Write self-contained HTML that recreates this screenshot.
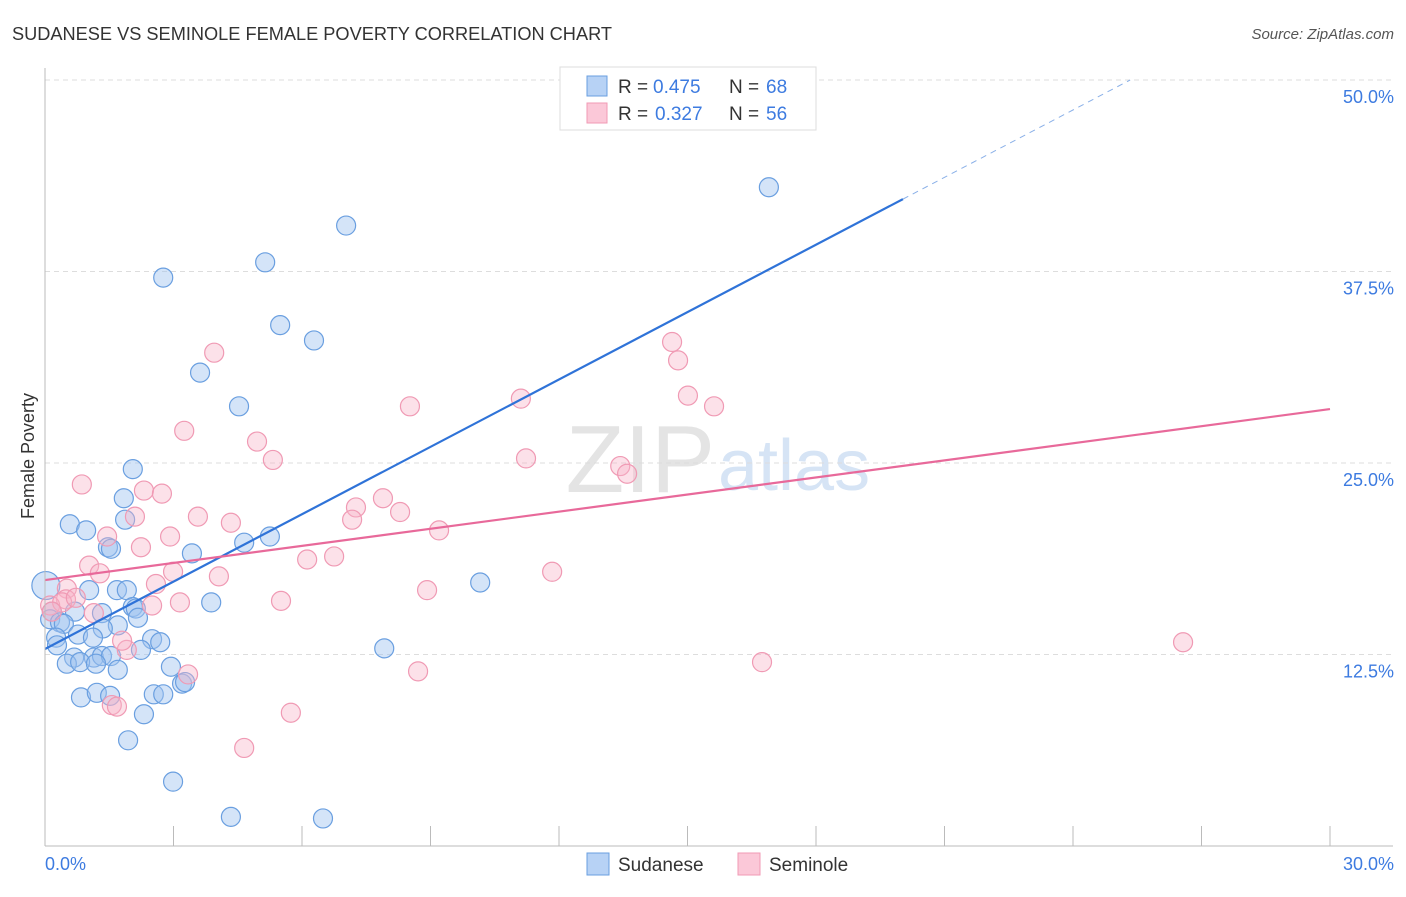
<!DOCTYPE html>
<html><head><meta charset="utf-8"><style>
body{margin:0;background:#fff;font-family:"Liberation Sans",sans-serif;}
svg text{font-family:"Liberation Sans",sans-serif;}
</style></head><body>
<svg id="chart" width="1406" height="892">
<text x="12" y="40" font-size="18.2" fill="#333">SUDANESE VS SEMINOLE FEMALE POVERTY CORRELATION CHART</text>
<text x="1394" y="39" font-size="15" fill="#555" font-style="italic" text-anchor="end">Source: ZipAtlas.com</text>
<text x="34" y="456" font-size="18" fill="#333" text-anchor="middle" transform="rotate(-90 34 456)">Female Poverty</text>
<text x="715" y="492" font-size="96" fill="#e4e4e4" text-anchor="end" font-family="Liberation Serif">ZIP</text>
<text x="718" y="490" font-size="72" fill="#d6e4f5">atlas</text>
<g id="grid"></g><g id="pts"></g><g id="lines"></g>
<line x1="45" y1="68" x2="45" y2="846" stroke="#bbb"/>
<line x1="45" y1="846" x2="1393" y2="846" stroke="#bbb"/>
<text x="45" y="870" font-size="18" fill="#3d7be0">0.0%</text>
<text x="1394" y="870" font-size="18" fill="#3d7be0" text-anchor="end">30.0%</text>
<g>
<rect x="560" y="67" width="256" height="63" fill="#fff" stroke="#ddd"/>
<rect x="587" y="76" width="20" height="20" fill="#b7d2f5" stroke="#6a9fe0"/>
<rect x="587" y="103" width="20" height="20" fill="#fbc8d8" stroke="#f09ab4"/>
<text x="618" y="93" font-size="19" fill="#333">R =</text>
<text x="653" y="93" font-size="19" fill="#3d7be0">0.475</text>
<text x="729" y="93" font-size="19" fill="#333">N =</text>
<text x="766" y="93" font-size="19" fill="#3d7be0">68</text>
<text x="618" y="120" font-size="19" fill="#333">R =</text>
<text x="655" y="120" font-size="19" fill="#3d7be0">0.327</text>
<text x="729" y="120" font-size="19" fill="#333">N =</text>
<text x="766" y="120" font-size="19" fill="#3d7be0">56</text>
</g>
<g>
<rect x="587" y="853" width="22" height="22" fill="#b7d2f5" stroke="#6a9fe0"/>
<text x="618" y="871" font-size="19" fill="#333">Sudanese</text>
<rect x="738" y="853" width="22" height="22" fill="#fbc8d8" stroke="#f09ab4"/>
<text x="769" y="871" font-size="19" fill="#333">Seminole</text>
</g>
</svg>
<script>
const yTicks=[12.5,25,37.5,50];
const xTicks=[0,3,6,9,12,15,18,21,24,27,30];
const sudX=[16.90,7.03,5.14,2.76,5.49,6.28,3.62,4.53,2.05,1.84,0.58,0.96,1.87,1.47,1.54,3.43,5.25,4.65,10.16,0.02,1.03,1.68,1.91,3.88,2.05,2.12,1.33,2.17,0.70,0.16,0.12,0.35,0.44,1.70,1.35,0.77,1.12,0.26,2.50,2.69,0.28,2.24,7.92,0.68,1.14,1.33,1.54,0.51,0.82,1.19,2.94,1.70,3.20,3.27,0.84,1.21,1.52,2.54,2.76,2.31,1.94,2.99,4.34,6.49];
const sudY=[43.0,40.5,38.1,37.1,34.0,33.0,30.9,28.7,24.6,22.7,21.0,20.6,21.3,19.5,19.4,19.1,20.2,19.8,17.2,17.0,16.7,16.7,16.7,15.9,15.6,15.5,15.2,14.9,15.3,15.3,14.8,14.6,14.5,14.4,14.2,13.8,13.6,13.6,13.5,13.3,13.1,12.8,12.9,12.3,12.3,12.4,12.4,11.9,12.0,11.9,11.7,11.5,10.6,10.7,9.7,10.0,9.8,9.9,9.9,8.6,6.9,4.2,1.9,1.8];
const semX=[14.64,14.78,3.95,15.01,15.62,8.52,11.11,3.25,4.95,5.32,11.23,13.43,13.59,0.86,2.31,2.73,7.89,8.29,7.26,7.17,4.34,3.57,2.10,1.45,2.92,9.20,2.24,1.03,6.12,6.75,11.84,2.99,1.28,4.06,2.59,0.51,8.92,0.49,0.12,0.40,0.72,3.15,5.51,2.50,1.14,0.16,1.91,1.80,3.34,8.71,16.74,26.57,1.56,1.68,5.74,4.65];
const semY=[32.9,31.7,32.2,29.4,28.7,28.7,29.2,27.1,26.4,25.2,25.3,24.8,24.3,23.6,23.2,23.0,22.7,21.8,22.1,21.3,21.1,21.5,21.5,20.2,20.2,20.6,19.5,18.3,18.7,18.9,17.9,17.9,17.8,17.6,17.1,16.8,16.7,16.1,15.7,15.9,16.2,15.9,16.0,15.7,15.2,15.3,12.8,13.4,11.2,11.4,12.0,13.3,9.2,9.1,8.7,6.4];
const sudTrend=[12.86,1.466]; const semTrend=[17.36,0.372];
const NS="http://www.w3.org/2000/svg";
const X=v=>45+v*42.833, Y=v=>846-v*15.32;
function mk(t,a,p){const e=document.createElementNS(NS,t);for(const k in a)e.setAttribute(k,a[k]);p.appendChild(e);return e;}
const grid=document.getElementById('grid');
yTicks.forEach(t=>{
 const l=mk('line',{x1:45,x2:1393,y1:Y(t),y2:Y(t),stroke:'#ddd','stroke-dasharray':'5,4'},grid);
 
 
 const tx=mk('text',{x:1394,y:Y(t)+23,'font-size':18,fill:'#3d7be0','text-anchor':'end'},grid);
 tx.textContent=(t.toFixed(1))+'%';
 
 
});
xTicks.forEach(t=>{
 const l=mk('line',{x1:X(t),x2:X(t),y1:826,y2:846,stroke:'#bbb'},grid);
 
 
});
const pts=document.getElementById('pts');
sudX.forEach((v,i)=>{
 const c=mk('circle',{cx:X(v),cy:Y(sudY[i]),r:i==19?14:9.5,fill:'rgba(160,196,240,0.45)',stroke:'#6a9fe0','stroke-width':1.2},pts);
 
 
});
semX.forEach((v,i)=>{
 const c=mk('circle',{cx:X(v),cy:Y(semY[i]),r:9.5,fill:'rgba(248,180,200,0.4)',stroke:'#f09ab4','stroke-width':1.2},pts);
 
 
});
const lines=document.getElementById('lines');
const xs=20.03, xe=(50-sudTrend[0])/sudTrend[1];
let l=mk('line',{x1:X(0),y1:Y(sudTrend[0]),x2:X(xs),y2:Y(sudTrend[0]+sudTrend[1]*xs),stroke:'#2f73d8','stroke-width':2.2},lines);


l=mk('line',{x1:X(xs),y1:Y(sudTrend[0]+sudTrend[1]*xs),x2:X(xe),y2:Y(50),stroke:'#8ab0e8','stroke-width':1,'stroke-dasharray':'6,5'},lines);


l=mk('line',{x1:X(0),y1:Y(semTrend[0]),x2:X(30),y2:Y(semTrend[0]+semTrend[1]*30),stroke:'#e8699a','stroke-width':2.2},lines);


</script>
</body></html>
